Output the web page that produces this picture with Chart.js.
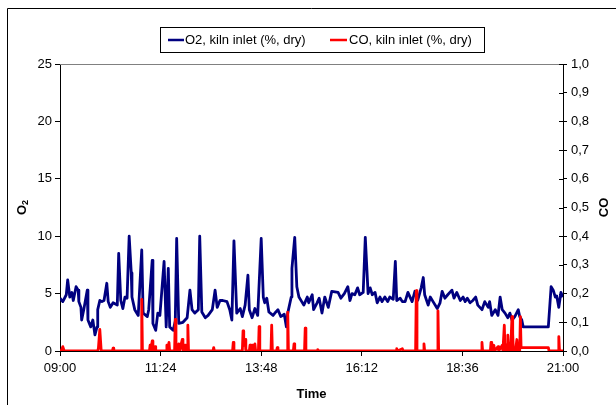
<!DOCTYPE html>
<html>
<head>
<meta charset="utf-8">
<script src="https://cdn.jsdelivr.net/npm/chart.js@4/dist/chart.umd.min.js"></script>
<style>
  html, body { margin: 0; padding: 0; background: #fff; }
  canvas { display: block; }
</style>
</head>
<body>
<canvas id="c" width="616" height="405"></canvas>
<script>
// ---- Data (minutes after 09:00) ----
const xTickLabels = ['09:00', '11:24', '13:48', '16:12', '18:36', '21:00'];
const o2TickLabels = ['0', '5', '10', '15', '20', '25'];
const coTickLabels = ['0,0','0,1','0,2','0,3','0,4','0,5','0,6','0,7','0,8','0,9','1,0'];

const o2Minutes = [0,4,9,11,14,17,19,23,26,27,30,31,34,39,40,44,47,50,53,54,57,60,63,67,69,72,76,82,84,87,90,93,96,99,102,103,107,112,117,119,125,127,132,133,137,140,143,149,152,155,157,162,165,167,170,176,182,186,189,193,198,200,203,208,212,218,222,225,229,233,239,243,246,249,253,258,261,265,269,271,275,279,283,288,291,293,296,299,305,309,312,316,321,324,326,331,332,336,339,342,346,349,354,356,361,363,368,371,375,379,384,389,398,402,407,412,415,418,422,426,429,434,437,441,444,447,451,454,458,461,465,469,472,477,480,482,487,490,494,498,504,508,512,517,520,522,527,530,534,540,544,547,551,555,561,564,568,573,577,580,583,587,591,595,598,604,608,613,615,618,623,627,630,633,637,641,644,647,651,656,658,661,663,699,703,706,709,711,714,717,720];
const o2Values = [4.6,4.3,4.9,6.2,4.7,5.1,4.4,5.6,5.3,4.3,3.8,2.7,3.6,5.3,2.7,2.1,2.7,1.4,2.1,3.6,4.4,4.3,4.4,5.9,4.3,3.8,4.2,4.0,8.5,4.4,3.7,4.7,4.6,10.0,6.8,4.7,3.6,3.1,8.8,3.3,3.0,3.6,7.9,2.4,1.8,3.3,3.1,7.8,2.1,7.2,2.1,1.8,2.6,9.8,2.4,2.5,2.9,5.3,3.6,3.3,3.6,10.0,3.4,2.9,3.1,3.6,5.3,3.8,4.4,4.4,4.3,3.6,2.7,9.6,3.3,3.7,3.0,4.0,6.6,3.6,2.9,3.7,3.1,9.8,4.7,4.2,4.6,3.4,3.1,3.4,3.6,3.0,3.2,2.1,3.3,4.7,7.2,9.9,5.6,4.7,4.3,4.0,4.7,4.2,4.9,3.6,4.2,4.6,3.3,4.7,3.8,5.2,5.1,4.6,5.0,5.6,4.4,5.0,4.9,5.5,4.9,5.1,9.9,5.0,5.5,4.9,5.1,4.2,4.7,4.3,4.7,4.3,4.7,4.5,7.8,4.4,4.6,4.3,4.3,5.1,4.3,5.2,4.4,5.5,6.4,4.9,4.0,4.7,4.3,3.7,4.2,5.2,4.6,4.9,5.3,4.6,5.1,4.4,4.7,4.3,4.6,4.2,4.4,4.7,4.0,3.6,4.3,3.8,4.3,3.1,3.6,3.1,4.7,3.6,3.3,2.9,3.3,2.7,3.0,3.6,3.0,2.7,2.1,2.1,5.6,5.3,4.7,4.8,3.8,5.1,4.7];

const coMinutes = [0,2,4,6,54,55,57,59,75,76,77,116,117,118,128,129,130,132,133,136,137,152,153,154,156,157,164,165,166,169,170,171,175,176,179,180,182,183,184,219,220,221,247,248,249,261,262,263,265,266,271,272,273,275,276,279,280,284,285,286,302,303,304,310,311,312,325,326,327,334,335,336,350,351,352,368,369,370,481,482,483,490,491,509,510,511,520,521,522,540,541,542,603,604,605,616,617,618,621,622,627,628,633,634,636,637,639,640,641,642,644,645,647,648,649,651,652,654,655,658,659,660,699,700,713,714,715,720];
const coValues = [0,0,0.015,0,0,0.01,0.075,0,0,0.01,0,0,0.18,0,0,0.02,0,0.035,0,0.015,0,0,0.02,0,0.03,0,0,0.11,0,0,0.025,0,0.04,0,0.02,0,0,0.09,0,0,0.012,0,0,0.03,0,0,0.07,0.02,0.04,0,0,0.02,0,0.02,0,0.025,0,0,0.085,0,0,0.09,0,0,0.012,0,0,0.135,0,0,0.025,0,0,0.08,0,0,0.005,0,0,0.008,0,0.008,0,0,0.21,0,0,0.025,0,0,0.14,0,0,0.03,0,0,0.03,0,0.02,0,0.015,0,0.02,0,0.09,0,0.02,0,0.055,0,0.02,0,0.12,0.06,0,0.01,0,0.04,0,0,0.12,0.012,0.012,0,0,0.05,0,0];

const FONT = "'Liberation Sans', Arial, sans-serif";

const decor = {
  id: 'decor',
  beforeDatasetsDraw(chart) {
    const ctx = chart.ctx, a = chart.chartArea;
    ctx.save();
    ctx.strokeStyle = '#808080';
    ctx.lineWidth = 1;
    ctx.beginPath();
    ctx.moveTo(a.left, Math.round(a.top) + 0.5);
    ctx.lineTo(a.right, Math.round(a.top) + 0.5);
    ctx.stroke();
    // inner half of right-axis ticks
    const y2 = chart.scales.y2;
    ctx.strokeStyle = '#000';
    y2.ticks.forEach((t, i) => {
      const yy = Math.round(y2.getPixelForTick(i)) + 0.5;
      ctx.beginPath();
      ctx.moveTo(a.right - 4, yy);
      ctx.lineTo(a.right, yy);
      ctx.stroke();
    });
    ctx.restore();
  },
  afterDraw(chart) {
    const ctx = chart.ctx, a = chart.chartArea;
    ctx.save();
    // outer frame
    ctx.strokeStyle = '#000';
    ctx.lineWidth = 1;
    ctx.beginPath();
    ctx.moveTo(7.5, 405);
    ctx.lineTo(7.5, 8.5);
    ctx.lineTo(616, 8.5);
    ctx.stroke();
    // legend
    const lx = 160, ly = 27, lw = 324, lh = 25;
    ctx.fillStyle = '#fff';
    ctx.fillRect(lx, ly, lw, lh);
    ctx.strokeRect(lx + 0.5, ly + 0.5, lw, lh);
    const cy = ly + lh / 2 + 0.5;
    ctx.lineWidth = 2.5;
    ctx.strokeStyle = '#000080';
    ctx.beginPath(); ctx.moveTo(168, cy); ctx.lineTo(184, cy); ctx.stroke();
    ctx.strokeStyle = '#ff0000';
    ctx.beginPath(); ctx.moveTo(330, cy); ctx.lineTo(347, cy); ctx.stroke();
    ctx.fillStyle = '#000';
    ctx.font = '13px ' + FONT;
    ctx.textBaseline = 'middle';
    ctx.textAlign = 'left';
    ctx.fillText(chart.data.datasets[0].label, 185, cy);
    ctx.fillText(chart.data.datasets[1].label, 349, cy);
    // x title
    ctx.font = 'bold 13px ' + FONT;
    ctx.textAlign = 'center';
    ctx.fillText('Time', (a.left + a.right) / 2, 394);
    // left title O2 (rotated)
    const midY = (a.top + a.bottom) / 2;
    ctx.save();
    ctx.translate(22, midY);
    ctx.rotate(-Math.PI / 2);
    ctx.font = 'bold 13px ' + FONT;
    const wO = ctx.measureText('O').width;
    ctx.font = 'bold 9px ' + FONT;
    const w2 = ctx.measureText('2').width;
    const start = -(wO + w2) / 2;
    ctx.textAlign = 'left';
    ctx.font = 'bold 13px ' + FONT;
    ctx.fillText('O', start, 0);
    ctx.font = 'bold 9px ' + FONT;
    ctx.fillText('2', start + wO, 4);
    ctx.restore();
    // right title CO
    ctx.save();
    ctx.translate(604, midY);
    ctx.rotate(-Math.PI / 2);
    ctx.font = 'bold 13px ' + FONT;
    ctx.textAlign = 'center';
    ctx.fillText('CO', 0, 0);
    ctx.restore();
    ctx.restore();
  }
};

const o2Data = o2Minutes.map((m, i) => ({ x: m, y: o2Values[i] }));
const coData = coMinutes.map((m, i) => ({ x: m, y: coValues[i] }));

new Chart(document.getElementById('c'), {
  type: 'line',
  data: {
    datasets: [
      { label: 'O2, kiln inlet (%, dry)', data: o2Data, yAxisID: 'y', borderColor: '#000080',
        borderWidth: 2.8, pointRadius: 0, tension: 0, order: 1, borderJoinStyle: 'round' },
      { label: 'CO, kiln inlet (%, dry)', data: coData, yAxisID: 'y2', borderColor: '#ff0000',
        borderWidth: 2.8, pointRadius: 0, tension: 0, order: 0, borderJoinStyle: 'round' }
    ]
  },
  options: {
    responsive: false,
    animation: false,
    events: [],
    layout: { padding: { top: 64, left: 0, right: 0, bottom: 0 } },
    plugins: { legend: { display: false }, tooltip: { enabled: false } },
    scales: {
      x: {
        type: 'linear', min: 0, max: 720,
        afterFit(s) { s.height = 54; },
        afterBuildTicks(s) { s.ticks = xTickLabels.map((_, i) => ({ value: i * 144 })); },
        ticks: { autoSkip: false, maxRotation: 0, padding: 5, color: '#000',
          font: { family: FONT, size: 13 },
          callback: (v, i) => xTickLabels[i] },
        grid: { drawOnChartArea: false, drawTicks: true, tickLength: 5, color: '#000' },
        border: { display: true, color: '#000', width: 1 }
      },
      y: {
        position: 'left', min: 0, max: 25,
        afterFit(s) { s.width = 60; },
        afterBuildTicks(s) { s.ticks = o2TickLabels.map((_, i) => ({ value: i * 5 })); },
        ticks: { padding: 3, color: '#000', font: { family: FONT, size: 13 },
          callback: (v, i) => o2TickLabels[i] },
        grid: { drawOnChartArea: false, drawTicks: true, tickLength: 5, color: '#000' },
        border: { display: true, color: '#000', width: 1 }
      },
      y2: {
        position: 'right', min: 0, max: 1,
        afterFit(s) { s.width = 53; },
        afterBuildTicks(s) { s.ticks = coTickLabels.map((_, i) => ({ value: i / 10 })); },
        ticks: { padding: 4, color: '#000', font: { family: FONT, size: 13 },
          callback: (v, i) => coTickLabels[i] },
        grid: { drawOnChartArea: false, drawTicks: true, tickLength: 4, color: '#000' },
        border: { display: true, color: '#000', width: 1 }
      }
    }
  },
  plugins: [decor]
});
</script>
</body>
</html>
